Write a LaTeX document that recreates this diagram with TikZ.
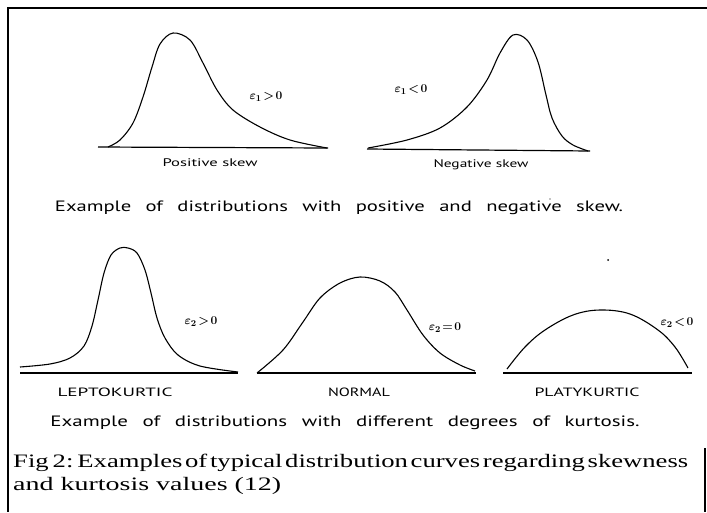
\documentclass[tikz,border=0pt]{standalone}
\usepackage{amsmath}
\usepackage{fontspec}
\usepackage{graphicx}
\setmainfont{Liberation Serif}
\newfontfamily\scanfont{PT Sans}
\begin{document}
\begin{tikzpicture}[x=1pt,y=-1pt,
  curve/.style={line width=1.1pt, line join=round},
  axisline/.style={line width=1.2pt},
  frameline/.style={line width=1.4pt},
  lbl/.style={inner sep=0pt, font=\scanfont},
  eps/.style={inner sep=0pt, font=\fontsize{13}{13}\selectfont}]
\useasboundingbox (0,0) rectangle (707,512);

% frame
\coordinate (ftl) at (8,8);
\coordinate (ftr) at (707,8);
\coordinate (fbl) at (8,512);
\coordinate (frt) at (705,448);
\coordinate (frb) at (705,512);
\draw[frameline] (ftr) -- (ftl) -- (fbl);
\draw[frameline] (frt) -- (frb);

% ---- positive skew
\coordinate (b1l) at (98,147);
\coordinate (b1r) at (328,148);
\draw[axisline] (b1l) -- (b1r);
\draw[curve] plot[smooth, tension=0.55] coordinates {(108,147) (120,140) (133,123) (143,97) (152,67) (160,44) (173,33) (190,40) (203,63) (217,90) (233,110) (260,127) (290,140) (327,148)};
\node[eps] (e1) at (266,97) {$\boldsymbol{\varepsilon_{1}\!>\!0}$};
\node[lbl] (ps) at (210,163) {\resizebox{95pt}{\height}{\fontsize{11}{11}\selectfont Positive skew}};

% ---- negative skew
\coordinate (b2l) at (367,149);
\coordinate (b2r) at (590,151);
\draw[axisline] (b2l) -- (b2r);
\draw[curve] plot[smooth, tension=0.55] coordinates {(368,148) (407,140) (440,128) (467,107) (487,80) (500,53) (513,35) (527,40) (538,62) (546,95) (552,118) (562,136) (573,145) (588,151)};
\node[eps] (e2) at (411,90) {$\boldsymbol{\varepsilon_{1}\!<\!0}$};
\node[lbl] (ns) at (481,165) {\resizebox{95pt}{\height}{\fontsize{11}{11}\selectfont Negative skew}};

% caption 1
\node[lbl] (cap1) at (339,208) {\resizebox{568pt}{\height}{\fontsize{15}{15}\selectfont Example\hspace{0.7em}of\hspace{0.7em}distributions\hspace{0.7em}with\hspace{0.7em}positive\hspace{0.7em}and\hspace{0.7em}negative\hspace{0.7em}skew.}};
\fill (550,199) circle (0.7pt);

% ---- leptokurtic
\coordinate (b3l) at (20,373);
\coordinate (b3r) at (238,373);
\draw[axisline] (b3l) -- (b3r);
\draw[curve] plot[smooth, tension=0.55] coordinates {(20,367) (50,364) (70,358) (84,346) (92,326) (98,300) (104,273) (111,255) (120,248) (128,248) (137,253) (145,270) (151,293) (157,318) (165,338) (178,355) (200,366) (238,372)};
\node[eps] (e3) at (201,322) {$\boldsymbol{\varepsilon_{2}\!>\!0}$};
\node[lbl] (lk) at (115,392) {\resizebox{115pt}{\height}{\fontsize{12}{12}\selectfont LEPTOKURTIC}};

% ---- normal
\coordinate (b4l) at (257,373);
\coordinate (b4r) at (476,373);
\draw[axisline] (b4l) -- (b4r);
\draw[curve] plot[smooth, tension=0.55] coordinates {(257,373) (283,350) (303,322) (320,298) (340,283) (360,277) (380,281) (395,292) (407,310) (423,335) (440,353) (460,365) (475,371)};
\node[eps] (e4) at (445,328) {$\boldsymbol{\varepsilon_{2}\!=\!0}$};
\node[lbl] (nm) at (359,392) {\resizebox{62pt}{\height}{\fontsize{12}{12}\selectfont NORMAL}};

% ---- platykurtic
\coordinate (b5l) at (503,373);
\coordinate (b5r) at (692,373);
\draw[axisline] (b5l) -- (b5r);
\draw[curve] plot[smooth, tension=0.6] coordinates {(507,369) (525,347) (545,330) (573,315) (600,310) (630,314) (658,330) (675,347) (688,368)};
\node[eps] (e5) at (677,323) {$\boldsymbol{\varepsilon_{2}\!<\!0}$};
\node[lbl] (pk) at (587,392) {\resizebox{105pt}{\height}{\fontsize{12}{12}\selectfont PLATYKURTIC}};
\fill (608,260) circle (1pt);

% caption 2
\node[lbl] (cap2) at (345,423) {\resizebox{589pt}{\height}{\fontsize{15}{15}\selectfont Example\hspace{0.7em}of\hspace{0.7em}distributions\hspace{0.7em}with\hspace{0.7em}different\hspace{0.7em}degrees\hspace{0.7em}of\hspace{0.7em}kurtosis.}};

% figure caption
\node[inner sep=0pt, anchor=base west] (fig1) at (13,467) {\resizebox{675pt}{\height}{\fontsize{19}{19}\selectfont Fig\hspace{0.15em}2:\hspace{0.15em}Examples\hspace{0.1em}of\hspace{0.1em}typical\hspace{0.1em}distribution\hspace{0.1em}curves\hspace{0.1em}regarding\hspace{0.1em}skewness}};
\node[inner sep=0pt, anchor=base west] (fig2) at (13,490) {\resizebox{268pt}{\height}{\fontsize{19}{19}\selectfont and kurtosis values (12)}};
\end{tikzpicture}
\end{document}
